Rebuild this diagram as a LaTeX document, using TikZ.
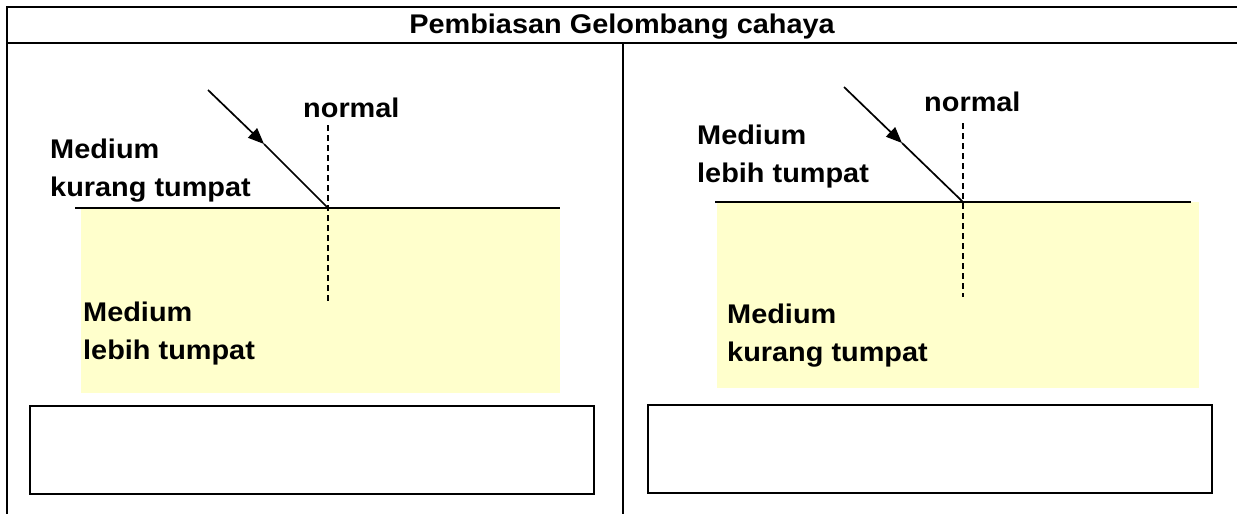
\documentclass[tikz,border=0pt]{standalone}
\usepackage{fontspec}
\setmainfont{Liberation Sans}[FakeStretch=1.07]
\usetikzlibrary{arrows.meta}
\definecolor{paleyellow}{HTML}{FFFFCC}
\begin{document}
\begin{tikzpicture}[x=1pt,y=-1pt,
  frame/.style={line width=2pt},
  surf/.style={line width=1.8pt},
  normalline/.style={line width=1.3pt,dash pattern=on 6pt off 4pt},
  ray/.style={line width=1.7pt},
  rayhead/.style={ray,-{Triangle[length=16pt,width=13pt]}},
  ansbox/.style={draw,line width=1.8pt,fill=white},
  lbl/.style={font=\fontsize{27}{32}\selectfont\bfseries,anchor=base west,inner sep=0pt},
  ttl/.style={font=\fontsize{27}{32}\selectfont\bfseries,anchor=base,inner sep=0pt}]
\useasboundingbox (0,0) rectangle (1237,514);
\clip (0,0) rectangle (1237,514);
% frame
\draw[frame] (7,530) -- (7,7) -- (1260,7);
\draw[frame] (7,43) -- (1260,43);
\draw[frame] (623,43) -- (623,530);
\node[ttl] (title) at (622,34) {Pembiasan Gelombang cahaya};
% ---------- left panel ----------
\fill[paleyellow] (81,208) rectangle (560,393);
\coordinate (L1) at (75,208);
\coordinate (L2) at (560,208);
\coordinate (LO) at (328,208);
\coordinate (LN1) at (328,125);
\coordinate (LN2) at (328,302);
\coordinate (LS) at (208,90);
\coordinate (LT) at (264,144);
\draw[surf] (L1) -- (L2);
\draw[normalline] (LN1) -- (LN2);
\draw[rayhead] (LS) -- (LT);
\draw[ray] (LT) -- (LO);
\node[lbl] (lnormal) at (303,117) {normal};
\node[lbl] (lm1) at (50,158) {Medium};
\node[lbl] (lm2) at (50,196) {kurang tumpat};
\node[lbl] (lm3) at (83,321) {Medium};
\node[lbl] (lm4) at (83,359) {lebih tumpat};
\draw[ansbox] (30,406) rectangle (594,494);
% ---------- right panel ----------
\fill[paleyellow] (717,202) rectangle (1199,388);
\coordinate (R1) at (715,202);
\coordinate (R2) at (1191,202);
\coordinate (RO) at (963,202);
\coordinate (RN1) at (963,123);
\coordinate (RN2) at (963,297);
\coordinate (RS) at (844,87);
\coordinate (RT) at (902,143);
\draw[surf] (R1) -- (R2);
\draw[normalline] (RN1) -- (RN2);
\draw[rayhead] (RS) -- (RT);
\draw[ray] (RT) -- (RO);
\node[lbl] (rnormal) at (924,111) {normal};
\node[lbl] (rm1) at (697,144) {Medium};
\node[lbl] (rm2) at (697,182) {lebih tumpat};
\node[lbl] (rm3) at (727,323) {Medium};
\node[lbl] (rm4) at (727,361) {kurang tumpat};
\draw[ansbox] (648,405) rectangle (1212,493);
\end{tikzpicture}
\end{document}
